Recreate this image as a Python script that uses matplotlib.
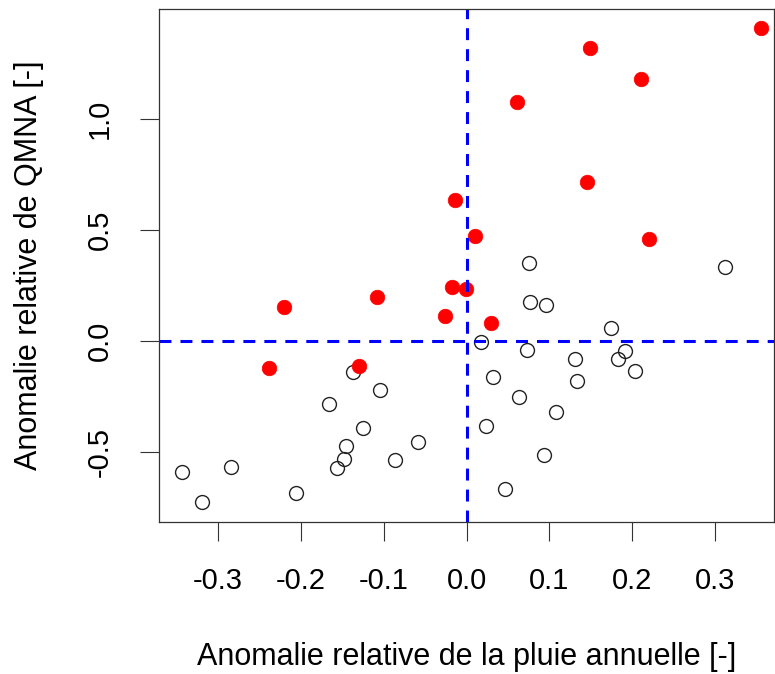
import matplotlib
matplotlib.use("Agg")
import matplotlib.pyplot as plt

plt.rcParams["font.family"] = ["Liberation Sans", "DejaVu Sans"]

# --- data ---
# years where both anomalies are positive-ish (filled red)
red_x = [0.356, 0.149, 0.211, 0.061, 0.146, -0.014, 0.010, 0.220,
         -0.018, -0.001, -0.108, -0.221, -0.026, -0.238, -0.130, 0.030]
red_y = [1.409, 1.317, 1.177, 1.077, 0.717, 0.633, 0.472, 0.457,
         0.244, 0.232, 0.199, 0.154, 0.114, -0.123, -0.111, 0.082]

# other years (open circles)
open_x = [0.0755, 0.312, -0.137, -0.104, -0.166, -0.125, -0.145, -0.148,
          -0.156, -0.059, -0.086, -0.284, -0.344, -0.319, -0.206, 0.077,
          0.096, 0.174, 0.0175, 0.0735, 0.131, 0.191, 0.183, 0.203,
          0.032, 0.134, 0.063, 0.108, 0.024, 0.094, 0.047]
open_y = [0.349, 0.331, -0.141, -0.220, -0.285, -0.393, -0.472, -0.531,
          -0.570, -0.454, -0.534, -0.565, -0.591, -0.726, -0.682, 0.174,
          0.162, 0.057, -0.003, -0.040, -0.081, -0.045, -0.081, -0.135,
          -0.160, -0.180, -0.252, -0.321, -0.381, -0.513, -0.667]

x_ticks = [-0.3, -0.2, -0.1, 0.0, 0.1, 0.2, 0.3]
y_ticks = [-0.5, 0.0, 0.5, 1.0]

fig = plt.figure(figsize=(7.75, 6.74), dpi=100)
ax = fig.add_axes([0.2052, 0.2260, 0.7935, 0.7602])

ax.plot(open_x, open_y, "o", ms=10, mfc="none", mec="#222222", mew=1.0)
ax.plot(red_x, red_y, "o", ms=10.5, color="red", mec="red", mew=0.5)

lw = 2.2
ax.axvline(0, color="blue", lw=lw, linestyle=(0, (8.6 / lw, 6.5 / lw)))
ax.axhline(0, color="blue", lw=lw, linestyle=(0, (8.6 / lw, 6.5 / lw)))

ax.set_xlim(-0.3714, 0.3714)
ax.set_ylim(-0.813, 1.492)
ax.set_xticks(x_ticks)
ax.set_xticklabels([f"{v:.1f}" for v in x_ticks])
ax.set_yticks(y_ticks)
ax.set_yticklabels([f"{v:.1f}" for v in y_ticks], rotation=90, va="center")

ax.tick_params(length=13.5, width=0.8, color="#333333", labelsize=21, pad=19)
for s in ax.spines.values():
    s.set_color("#333333")
    s.set_linewidth(0.9)

ax.set_xlabel("Anomalie relative de la pluie annuelle [-]", fontsize=22, labelpad=34)
ax.set_ylabel("Anomalie relative de QMNA [-]", fontsize=22, labelpad=30)

fig.savefig("out.png", dpi=100)
